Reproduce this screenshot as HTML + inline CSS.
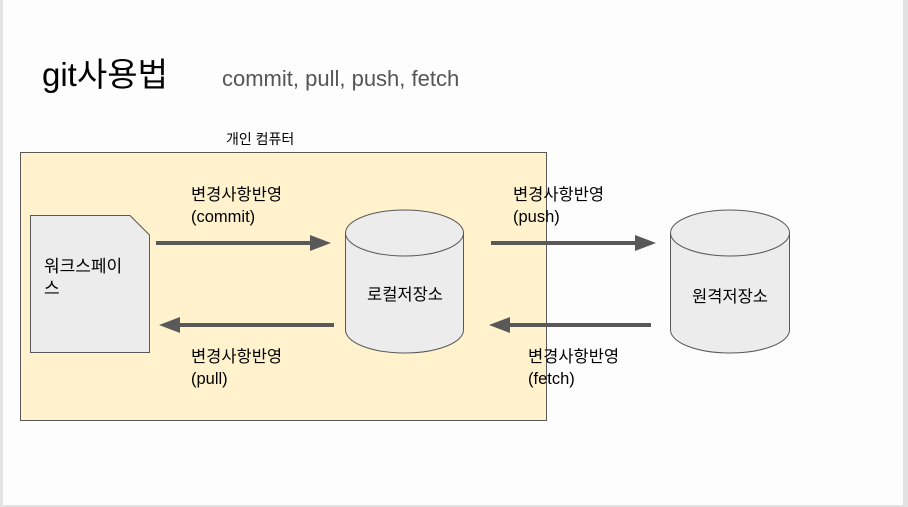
<!DOCTYPE html>
<html><head><meta charset="utf-8"><style>
html,body{margin:0;padding:0;background:#fff}
svg{display:block}
text{font-family:"Liberation Sans","Noto Sans CJK KR",sans-serif}
</style></head><body>
<svg width="908" height="507" viewBox="0 0 908 507" xmlns="http://www.w3.org/2000/svg">
<rect x="0" y="0" width="908" height="507" fill="#fdfdfd"/>
<rect x="0" y="0" width="3" height="507" fill="#e2e2e2"/>
<rect x="903" y="0" width="5" height="507" fill="#e2e2e2"/>
<rect x="0" y="505" width="908" height="2" fill="#e2e2e2"/>
<text x="42" y="86" font-size="33" fill="#000">git사용법</text>
<text x="222" y="86" font-size="22" fill="#555">commit, pull, push, fetch</text>
<text x="226" y="144" font-size="14" fill="#000">개인 컴퓨터</text>
<rect x="20.5" y="152.5" width="526" height="268" fill="#fff2cc" stroke="#595959" stroke-width="1"/>
<path d="M30.5 215.5 H130 L149.5 235 V352.5 H30.5 Z" fill="#ececec" stroke="#595959"/>
<text x="44" y="272" font-size="17">워크스페이</text>
<text x="44" y="294" font-size="17">스</text>
<g fill="#ececec" stroke="#595959">
<path d="M345.5 233 V330 A59 23 0 0 0 463.5 330 V233"/>
<ellipse cx="404.5" cy="233" rx="59" ry="23"/>
<path d="M670.5 233 V330 A59.5 23 0 0 0 789.5 330 V233"/>
<ellipse cx="730" cy="233" rx="59.5" ry="23"/>
</g>
<text x="405" y="300" font-size="16.5" text-anchor="middle">로컬저장소</text>
<text x="730" y="302" font-size="16.5" text-anchor="middle">원격저장소</text>
<g stroke="#595959" stroke-width="4">
<line x1="156" y1="243" x2="312" y2="243"/>
<line x1="334" y1="325" x2="178" y2="325"/>
<line x1="491" y1="243" x2="637" y2="243"/>
<line x1="651" y1="325" x2="508" y2="325"/>
</g>
<g fill="#595959">
<path d="M310 235 L331 243 L310 251Z"/>
<path d="M180 317 L159 325 L180 333Z"/>
<path d="M635 235 L656 243 L635 251Z"/>
<path d="M510 317 L489 325 L510 333Z"/>
</g>
<g font-size="16.5" fill="#000">
<text x="191" y="200">변경사항반영</text><text x="191" y="222">(commit)</text>
<text x="191" y="362">변경사항반영</text><text x="191" y="384">(pull)</text>
<text x="513" y="200">변경사항반영</text><text x="513" y="222">(push)</text>
<text x="528" y="362">변경사항반영</text><text x="528" y="384">(fetch)</text>
</g>
</svg>
</body></html>
